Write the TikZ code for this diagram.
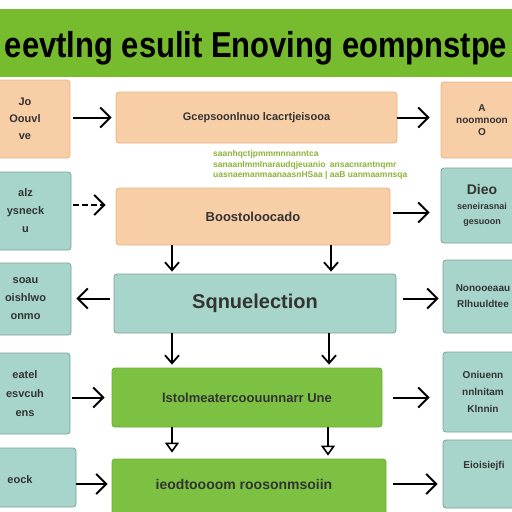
\documentclass[tikz,border=0pt]{standalone}
\usepackage{fontspec}
\setmainfont{Liberation Sans}
\usetikzlibrary{arrows.meta}

\definecolor{boxorange}{HTML}{F8CEA6}
\definecolor{lineorange}{HTML}{E6B48A}
\definecolor{boxteal}{HTML}{A7D5CC}
\definecolor{lineteal}{HTML}{7F9F99}
\definecolor{bandgreen}{HTML}{76BC2E}
\definecolor{boxgreen}{HTML}{7CC142}
\definecolor{linegreen}{HTML}{6AAE35}
\definecolor{olivetext}{HTML}{8DB33A}
\definecolor{textgray}{HTML}{333333}

\tikzset{
  orangebox/.style={rectangle, rounded corners=3pt, draw=lineorange, fill=boxorange, line width=0.8pt, inner sep=0pt, align=center, text=textgray, font=\bfseries},
  tealbox/.style={orangebox, draw=lineteal, fill=boxteal},
  greenbox/.style={orangebox, draw=linegreen, fill=boxgreen},
  boxtext/.style={text=textgray, font=\bfseries, inner sep=0pt, align=center},
  arr/.style={line width=2pt, -{Straight Barb[length=10pt,width=20pt]}},
  downarr/.style={line width=1.8pt, -{Straight Barb[length=8pt,width=14pt]}},
  tipdown/.style={line width=1.6pt, -{Triangle[open,length=10pt,width=14pt]}}
}

\begin{document}
\begin{tikzpicture}[x=1pt,y=-1pt]
    \clip (0,0) rectangle (512,512);
    \fill[white] (0,0) rectangle (512,512);

    % title band
    \fill[bandgreen] (0,9) rectangle (512,77);
    \node[anchor=base, inner sep=0pt, font=\fontsize{36}{36}\selectfont\bfseries] (title) at (256,57)
        {\scalebox{0.86}[1]{eevtlng esulit Enoving eompnstpe}};

    % row 1
    \node[orangebox, minimum width=90, minimum height=78, font=\fontsize{11}{17}\selectfont\bfseries] (L1) at (25,119) {Jo\\Oouvl\\ve};
    \node[orangebox, minimum width=281, minimum height=51, font=\fontsize{11}{12}\selectfont\bfseries] (C1) at (256.5,117.5) {Gcepsoonlnuo lcacrtjeisooa};
    \node[orangebox, minimum width=82, minimum height=76, font=\fontsize{10}{12}\selectfont\bfseries] (R1) at (482,120) {A\\noomnoon\\O};
    \node[anchor=base west, inner sep=0pt, text=olivetext, font=\fontsize{8.5}{8.5}\selectfont\bfseries] (note1) at (213,156) {saanhqctjpmmmnnanntca};
    \node[anchor=base west, inner sep=0pt, text=olivetext, font=\fontsize{8.5}{8.5}\selectfont\bfseries] (note2) at (213,167) {sanaanlmmlnaraudqjeuanio\enspace ansacnrantnqmr};
    \node[anchor=base west, inner sep=0pt, text=olivetext, font=\fontsize{8.5}{8.5}\selectfont\bfseries] (note3) at (213,177) {uasnaemanmaanaasnHSaa | aaB uanmaamnsqa};

    % row 2
    \node[tealbox, minimum width=91, minimum height=78, font=\fontsize{11}{18}\selectfont\bfseries] (L2) at (25.5,211) {alz\\ysneck\\u};
    \node[orangebox, minimum width=274, minimum height=57, font=\fontsize{13}{14}\selectfont\bfseries] (C2) at (253,216.5) {Boostoloocado};
    \node[tealbox, minimum width=82, minimum height=75, font=\fontsize{9}{15}\selectfont\bfseries] (R2) at (482,205.5) {{\fontsize{14}{15}\selectfont Dieo}\\seneirasnai\\gesuoon};

    % row 3
    \node[tealbox, minimum width=91, minimum height=72, font=\fontsize{11}{18}\selectfont\bfseries] (L3) at (25.5,299) {soau\\oishlwo\\onmo};
    \node[tealbox, minimum width=282, minimum height=59, font=\fontsize{20}{20}\selectfont\bfseries] (C3) at (255,303.5) {Sqnuelection};
    \node[tealbox, minimum width=80, minimum height=73, font=\fontsize{10}{16}\selectfont\bfseries] (R3) at (483,296.5) {Nonooeaau\\Rlhuuldtee};

    % row 4
    \node[tealbox, minimum width=90, minimum height=81, font=\fontsize{11}{19}\selectfont\bfseries] (L4) at (25,393.5) {eatel\\esvcuh\\ens};
    \node[greenbox, minimum width=270, minimum height=59, font=\fontsize{13}{14}\selectfont\bfseries] (C4) at (247,397.5) {lstolmeatercoouunnarr Une};
    \node[tealbox, minimum width=80, minimum height=80, font=\fontsize{10}{17}\selectfont\bfseries] (R4) at (483,392) {Oniuenn\\nnlnitam\\Klnnin};

    % row 5
    \node[tealbox, minimum width=96, minimum height=59] (L5) at (28,477.5) {};
    \node[boxtext, font=\fontsize{11}{12}\selectfont\bfseries] (L5text) at (20,480) {eock};
    \node[greenbox, minimum width=274, minimum height=66] (C5) at (249,492) {};
    \node[boxtext, font=\fontsize{14}{14}\selectfont\bfseries] (C5text) at (244,484) {ieodtoooom roosonmsoiin};
    \node[tealbox, minimum width=80, minimum height=68] (R5) at (483,474) {};
    \node[boxtext, font=\fontsize{10}{10}\selectfont\bfseries] (R5text) at (484,466) {Eioisiejfi};

    % columns of the down arrows
    \coordinate (colA) at (172,0);
    \coordinate (colB) at (331,0);

    % across
    \draw[arr, shorten <=3pt, shorten >=4pt] (L1.east |- C1.west) -- (C1.west);
    \draw[arr, shorten >=11pt] (C1.east) -- (C1.east -| R1.west);
    \draw[arr, dash pattern=on 6pt off 3pt, shorten <=2pt, shorten >=10pt] ([yshift=6pt]L2.east) -- ([yshift=6pt]L2.east -| C2.west);
    \draw[arr, shorten <=3pt, shorten >=11pt] ([yshift=4pt]C2.east) -- ([yshift=4pt]C2.east -| R2.west);
    \draw[arr, shorten <=4pt, shorten >=5pt] ([yshift=5pt]C3.west) -- ([yshift=5pt]C3.west -| L3.east);
    \draw[arr, shorten <=7pt, shorten >=4pt] ([yshift=5pt]C3.east) -- ([yshift=5pt]C3.east -| R3.west);
    \draw[arr, shorten <=2pt, shorten >=7pt] (L4.east |- C4.west) -- (C4.west);
    \draw[arr, shorten <=11pt, shorten >=13pt] (C4.east) -- (C4.east -| R4.west);
    \draw[arr, shorten <=0pt, shorten >=4pt] (L5.east |- C5text) -- (C5.west |- C5text);
    \draw[arr, shorten <=7pt, shorten >=5pt] (C5.east |- C5text) -- (R5.west |- C5text);

    % down
    \draw[downarr, shorten >=2pt] (C2.south -| colA) -- (C3.north -| colA);
    \draw[downarr, shorten >=2pt] (C2.south -| colB) -- (C3.north -| colB);
    \draw[downarr, shorten >=3pt] (C3.south -| colA) -- (C4.north -| colA);
    \draw[downarr, shorten >=3pt] ([xshift=-2pt]C3.south -| colB) -- ([xshift=-2pt]C4.north -| colB);
    \draw[tipdown, shorten >=6pt] (C4.south -| colA) -- (C5.north -| colA);
    \draw[tipdown, shorten >=3pt] ([xshift=-3pt]C4.south -| colB) -- ([xshift=-3pt]C5.north -| colB);
\end{tikzpicture}
\end{document}
